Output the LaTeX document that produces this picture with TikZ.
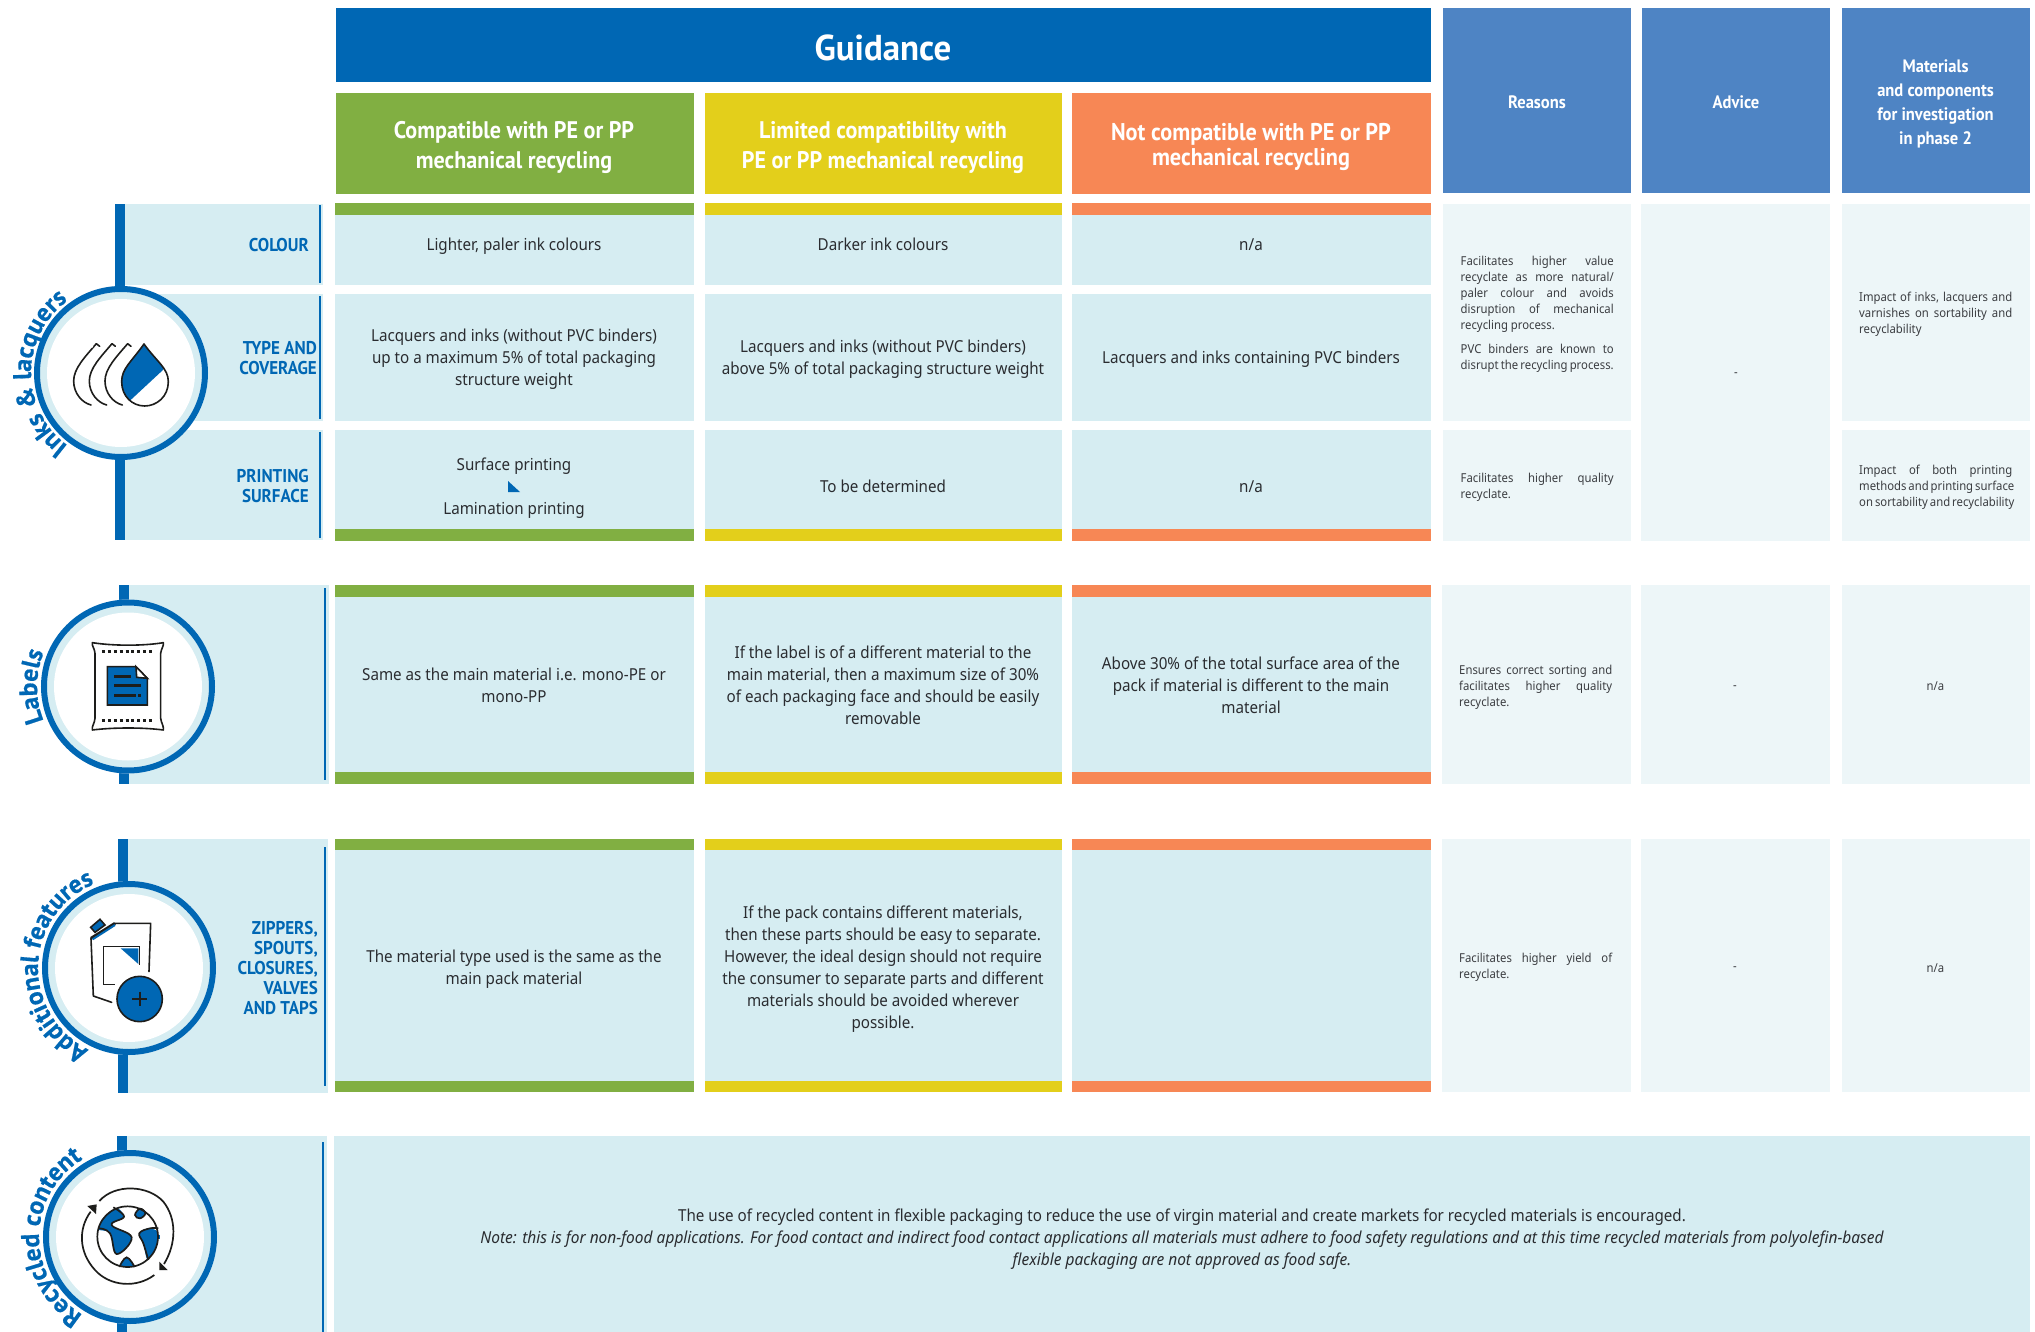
\documentclass[tikz,border=0pt]{standalone}
\usepackage{fontspec}
\usetikzlibrary{decorations.text}
\setmainfont{Noto Sans}[FakeStretch=0.92,ItalicFeatures={FakeStretch=0.94}]
\newfontfamily\headf{PT Sans}[FakeStretch=0.92]
\newfontfamily\guidf{PT Sans}[FakeStretch=0.97]
\newfontfamily\arcf{PT Sans}[BoldFeatures={FakeBold=0.6}]
\definecolor{mainblue}{HTML}{0067B4}
\definecolor{headblue}{HTML}{4E84C4}
\definecolor{lightc}{HTML}{D6EDF2}
\definecolor{palec}{HTML}{EDF6F8}
\definecolor{greenc}{HTML}{81AF42}
\definecolor{yellowc}{HTML}{E3CF1B}
\definecolor{orangec}{HTML}{F78755}
\definecolor{inkc}{HTML}{2A2C30}
\definecolor{iconk}{HTML}{1D1D1B}
\newcommand\jl[1]{\makebox[153pt][s]{#1}}
\newcommand\rowstrips[4]{% top strip y0-y1, bottom strip y2-y3
  \fill[lightc] (335,#1) rectangle (694,#4);
  \fill[lightc] (705,#1) rectangle (1062,#4);
  \fill[lightc] (1072,#1) rectangle (1431,#4);
  \fill[greenc] (335,#1) rectangle (694,#2); \fill[greenc] (335,#3) rectangle (694,#4);
  \fill[yellowc] (705,#1) rectangle (1062,#2); \fill[yellowc] (705,#3) rectangle (1062,#4);
  \fill[orangec] (1072,#1) rectangle (1431,#2); \fill[orangec] (1072,#3) rectangle (1431,#4);
}
\newcommand\medallion[2]{% cx cy
  \fill[white] (#1,#2) circle[radius=87pt];
  \fill[lightc] (#1,#2) circle[radius=81pt];
  \fill[white] (#1,#2) circle[radius=74pt];
  \draw[mainblue,line width=6pt] (#1,#2) circle[radius=84pt];
}
\tikzset{
  body/.style={inner sep=0pt,align=center,text=inkc,yshift=-1.5pt,font=\fontsize{16.5}{22}\selectfont},
  small/.style={inner sep=0pt,align=left,yshift=-1.5pt,text=inkc!92!white,font=\fontsize{12.3}{16}\selectfont},
  smallc/.style={inner sep=0pt,align=center,yshift=-1.5pt,text=inkc!92!white,font=\fontsize{12.3}{16}\selectfont},
  bighead/.style={inner sep=0pt,align=center,text=white,yshift=-2.5pt,font=\headf\bfseries\fontsize{24}{30}\selectfont},
  bluehead/.style={inner sep=0pt,align=center,text=white,yshift=-1.5pt,font=\headf\bfseries\fontsize{18}{24}\selectfont},
  rowlab/.style={inner sep=0pt,align=right,anchor=east,text=mainblue,font=\headf\bfseries\fontsize{18.5}{20}\selectfont},
  arctext/.style={decorate,decoration={text along path,text align=center,text color=mainblue,text={|\arcf\bfseries\fontsize{25.5}{26}\selectfont|#1}}},
  ik/.style={draw=iconk,line width=1.6pt,line cap=round,line join=round},
}
\begin{document}
\begin{tikzpicture}[x=1pt,y=-1pt]
\clip (0,0) rectangle (2035,1332);
\fill[white] (0,0) rectangle (2035,1332);
% ---------- headers
\fill[mainblue] (336,8) rectangle (1431,82);
\node[inner sep=0pt,text=white,font=\guidf\bfseries\fontsize{36}{36}\selectfont] (guid) at (883,48) {Guidance};
\fill[greenc] (336,93) rectangle (694,194);
\fill[yellowc] (705,93) rectangle (1062,194);
\fill[orangec] (1072,93) rectangle (1431,194);
\node[bighead] (hg) at (514,145) {Compatible with PE or PP\\mechanical recycling};
\node[bighead] (hy) at (883,145) {Limited compatibility with\\PE or PP mechanical recycling};
\node[bighead,font=\headf\bfseries\fontsize{24.2}{25}\selectfont] (ho) at (1251,144.5) {Not compatible with PE or PP\\mechanical recycling};
\fill[headblue] (1443,8) rectangle (1631,193);
\fill[headblue] (1642,8) rectangle (1830,193);
\fill[headblue] (1842,8) rectangle (2030,193);
\node[bluehead] (hr) at (1537,101) {Reasons};
\node[bluehead] (ha) at (1736,101) {Advice};
\node[bluehead] (hm) at (1935.5,102) {Materials\\and components\\for investigation\\in phase 2};
% ---------- row 1
\rowstrips{203}{215}{529}{541}
\fill[white] (335,285) rectangle (1431,294);
\fill[white] (335,421) rectangle (1431,430);
\fill[palec] (1443,204) rectangle (1631,421);
\fill[palec] (1443,430) rectangle (1631,541);
\fill[palec] (1641,204) rectangle (1830,541);
\fill[palec] (1842,204) rectangle (2030,421);
\fill[palec] (1842,430) rectangle (2030,541);
% row 1 left cells
\fill[lightc] (125,204) rectangle (323,285);
\fill[lightc] (125,294) rectangle (323,421);
\fill[lightc] (125,430) rectangle (323,540);
\fill[mainblue] (115,204) rectangle (125,540);
\fill[mainblue] (319,205) rectangle (321,283);
\fill[mainblue] (319,296) rectangle (321,419);
\fill[mainblue] (319,432) rectangle (321,538);
\medallion{121}{373}
\path[arctext={Inks {\&} lacquers}] (121,373) ++(232:90pt) arc[start angle=232,end angle=128,radius=90pt];
\node[rowlab] (l1) at (309,245) {COLOUR};
\node[rowlab] (l2) at (317,358) {TYPE AND\\COVERAGE};
\node[rowlab] (l3) at (309,486) {PRINTING\\SURFACE};
\node[body] (a1) at (514,245) {Lighter, paler ink colours};
\node[body] (b1) at (883,243) {Darker ink colours};
\node[body] (c1) at (1251,243) {n/a};
\node[body] (a2) at (514,358) {Lacquers and inks (without PVC binders)\\up to a maximum 5\% of total packaging\\structure weight};
\node[body] (b2) at (883,358) {Lacquers and inks (without PVC binders)\\above 5\% of total packaging structure weight};
\node[body] (c2) at (1251,357.5) {Lacquers and inks containing PVC binders};
\node[body] (a3a) at (514,465) {Surface printing};
\node[body] (a3b) at (514,509) {Lamination printing};
\fill[mainblue] (508,481) -- (508,492) -- (520,492) -- cycle;
\node[body] (b3) at (883,485) {To be determined};
\node[body] (c3) at (1251,485) {n/a};
\node[small,anchor=west] (r1) at (1460.5,313) {\jl{Facilitates higher value}\\\jl{recyclate as more natural/}\\\jl{paler colour and avoids}\\\jl{disruption of mechanical}\\recycling process.\\[8pt]\jl{PVC binders are known to}\\\jl{disrupt the recycling process.}};
\node[small,anchor=west] (r2) at (1460.5,486) {\jl{Facilitates higher quality}\\recyclate.};
\node[smallc] (ad1) at (1736,373) {-};
\node[small,anchor=west] (m1) at (1859,313) {\jl{Impact of inks, lacquers and}\\\jl{varnishes on sortability and}\\recyclability};
\node[small,anchor=west] (m2) at (1859,486) {\jl{Impact of both printing}\\\jl{methods and printing surface}\\\jl{on sortability and recyclability}};
% ---------- row 2
\rowstrips{585}{597}{772}{784}
\fill[palec] (1442,585) rectangle (1631,784);
\fill[palec] (1641,585) rectangle (1830,784);
\fill[palec] (1842,585) rectangle (2030,784);
\fill[lightc] (129,585) rectangle (329,784);
\fill[mainblue] (119,585) rectangle (129,784);
\fill[mainblue] (324,588) rectangle (326,780);
\medallion{128}{686.5}
\path[arctext={Labels}] (128,686.5) ++(205:91pt) arc[start angle=205,end angle=155,radius=91pt];
\node[body] (a4) at (514,684) {Same as the main material i.e. mono-PE or\\mono-PP};
\node[body] (b4) at (883,684) {If the label is of a different material to the\\main material, then a maximum size of 30\%\\of each packaging face and should be easily\\removable};
\node[body] (c4) at (1251,684) {Above 30\% of the total surface area of the\\pack if material is different to the main\\material};
\node[small,anchor=west] (r4) at (1459,686) {\jl{Ensures correct sorting and}\\\jl{facilitates higher quality}\\recyclate.};
\node[smallc] (ad4) at (1735,686) {-};
\node[smallc] (m4) at (1935.5,685) {n/a};
% ---------- row 3
\rowstrips{839}{850}{1081}{1092}
\fill[palec] (1442,839) rectangle (1631,1092);
\fill[palec] (1641,839) rectangle (1830,1092);
\fill[palec] (1842,839) rectangle (2030,1092);
\fill[lightc] (128,839) rectangle (328,1093);
\fill[mainblue] (118,839) rectangle (128,1093);
\fill[mainblue] (324,847) rectangle (326,1086);
\medallion{129}{968}
\path[arctext={Additional features}] (129,968) ++(243:91pt) arc[start angle=243,end angle=113,radius=91pt];
\node[rowlab] (l6) at (318,968) {ZIPPERS,\\SPOUTS,\\CLOSURES,\\VALVES\\AND TAPS};
\node[body] (a6) at (514,968) {The material type used is the same as the\\main pack material};
\node[body] (b6) at (883,967.5) {If the pack contains different materials,\\then these parts should be easy to separate.\\However, the ideal design should not require\\the consumer to separate parts and different\\materials should be avoided wherever\\possible.};
\node[small,anchor=west] (r6) at (1459,966) {\jl{Facilitates higher yield of}\\recyclate.};
\node[smallc] (ad6) at (1735,967) {-};
\node[smallc] (m6) at (1935.5,967) {n/a};
% ---------- row 4
\fill[lightc] (334,1136) rectangle (2030,1332);
\fill[lightc] (127,1136) rectangle (327,1332);
\fill[mainblue] (117,1136) rectangle (127,1332);
\fill[mainblue] (322,1142) rectangle (324,1332);
\medallion{130}{1237}
\path[arctext={Recycled content}] (130,1237) ++(238:91pt) arc[start angle=238,end angle=122,radius=91pt];
\node[body] (n1) at (1182,1238) {The use of recycled content in flexible packaging to reduce the use of virgin material and create markets for recycled materials is encouraged.\\
\itshape Note: this is for non-food applications. For food contact and indirect food contact applications all materials must adhere to food safety regulations and at this time recycled materials from polyolefin-based\\
\itshape flexible packaging are not approved as food safe.};
% ---------- icon: drops (coordinates of the 3x crop)
\begin{scope}[x=0.33333pt,y=-0.33333pt,yshift=-180pt]
  \path[fill=white] (432,492) .. controls (470,545) and (505,565) .. (505,605) .. controls (505,650) and (470,678) .. (434,678) .. controls (398,678) and (365,650) .. (365,605) .. controls (365,565) and (395,545) .. (432,492) -- cycle;
  \begin{scope}
    \clip (432,492) .. controls (470,545) and (505,565) .. (505,605) .. controls (505,650) and (470,678) .. (434,678) .. controls (398,678) and (365,650) .. (365,605) .. controls (365,565) and (395,545) .. (432,492) -- cycle;
    \fill[mainblue] (340,480) -- (490,480) -- (490,569) -- (392,660) -- (340,660) -- cycle;
  \end{scope}
  \draw[ik] (432,492) .. controls (470,545) and (505,565) .. (505,605) .. controls (505,650) and (470,678) .. (434,678) .. controls (398,678) and (365,650) .. (365,605) .. controls (365,565) and (395,545) .. (432,492) -- cycle;
  \foreach \dx in {0,-47,-94}{
    \begin{scope}[xshift=\dx*0.33333pt]
      \draw[ik] (367,675) .. controls (340,668) and (315,640) .. (315,603) .. controls (315,565) and (350,530) .. (383,491) -- (393,499);
    \end{scope}
  }
  \fill[white] (276,500) circle[radius=4];
\end{scope}
% ---------- icon: bag
\begin{scope}[x=0.33333pt,y=-0.33333pt,yshift=-570pt]
  \draw[ik] (277,218) .. controls (340,228) and (430,228) .. (490,218) .. controls (492,228) and (484,235) .. (482,250) -- (482,445) .. controls (484,460) and (492,468) .. (490,480) .. controls (430,472) and (340,472) .. (277,480) .. controls (275,468) and (284,460) .. (285,445) -- (285,250) .. controls (284,235) and (275,228) .. (277,218) -- cycle;
  \draw[iconk,line width=3pt,dash pattern=on 3pt off 2.9pt] (306,244) -- (464,244);
  \draw[iconk,line width=3pt,dash pattern=on 3pt off 2.9pt] (306,451) -- (464,451);
  \draw[ik,fill=mainblue,line cap=butt,line join=miter] (322,290) -- (408,290) -- (442,325) -- (442,405) -- (322,405) -- cycle;
  \draw[ik,fill=white,line join=miter] (408,290) -- (442,325) -- (410,322) -- cycle;
  \fill[iconk] (342,315) rectangle (393,323);
  \fill[iconk] (342,342) rectangle (423,350);
  \fill[iconk] (342,372) rectangle (408,380);
  \fill[iconk] (414,372) rectangle (423,380);
\end{scope}
% ---------- icon: pouch
\begin{scope}[x=0.33333pt,y=-0.33333pt,yshift=-830pt]
  \draw[ik] (273,325) -- (280,498) -- (335,517);
  \draw[ik] (345,280) -- (452,280) -- (447,425);
  \draw[iconk,line width=3pt,line join=miter] (273,325) -- (345,280);
  \draw[mainblue,line width=2pt] (278,328) -- (345,285);
  \draw[ik,fill=mainblue,line join=miter] (272,292) -- (300,268) -- (315,285) -- (285,307) -- cycle;
  \draw[ik,line cap=butt,line join=miter] (345,463) -- (310,463) -- (310,350) -- (418,350) -- (418,405);
  \fill[mainblue] (362,355) -- (415,355) -- (415,402) -- cycle;
  \draw[ik,fill=mainblue] (419,507) circle[radius=68];
  \draw[iconk,line width=1.8pt] (397,507) -- (441,507) (419,485) -- (419,529);
\end{scope}
% ---------- icon: globe
\begin{scope}[x=0.33333pt,y=-0.33333pt,yshift=-1120pt]
  \begin{scope}
    \clip (383,350) circle[radius=91];
    \fill[mainblue] plot[smooth cycle,tension=0.7] coordinates {(340,258) (372,290) (335,315) (395,352) (350,402) (330,340) (290,325) (305,280)};
    \fill[mainblue] plot[smooth cycle,tension=0.7] coordinates {(405,285) (420,266) (436,280) (420,295)};
    \fill[mainblue] plot[smooth cycle,tension=0.7] coordinates {(418,340) (450,325) (480,345) (475,390) (445,422) (430,370)};
    \fill[mainblue] plot[smooth cycle,tension=0.7] coordinates {(358,450) (380,412) (404,450)};
  \end{scope}
  \fill[mainblue] (470,345) rectangle (480,357);
  \draw[iconk,line width=1.7pt] (383,350) circle[radius=91];
  \draw[iconk,line width=1.7pt] plot[smooth,tension=0.7] coordinates {(340,262) (372,290) (335,315) (395,352) (350,402) (330,340) (297,325)};
  \draw[iconk,line width=1.7pt] plot[smooth cycle,tension=0.7] coordinates {(405,285) (420,266) (436,280) (420,295)};
  \draw[iconk,line width=1.7pt] plot[smooth,tension=0.7] coordinates {(475,325) (450,325) (418,340) (430,370) (445,420)};
  \draw[iconk,line width=1.7pt] plot[smooth,tension=0.7] coordinates {(358,441) (380,412) (404,441)};
  \draw[iconk,line width=1.7pt] (298,243) .. controls (345,190) and (445,195) .. (490,245) .. controls (530,295) and (530,370) .. (492,432);
  \draw[iconk,line width=1.7pt] (463,465) .. controls (410,505) and (330,500) .. (285,450) .. controls (235,395) and (235,325) .. (272,275);
  \fill[iconk] (262,258) -- (290,253) -- (288,282) -- cycle;
  \fill[iconk] (478,450) -- (503,450) -- (478,425) -- cycle;
\end{scope}
\end{tikzpicture}
\end{document}
